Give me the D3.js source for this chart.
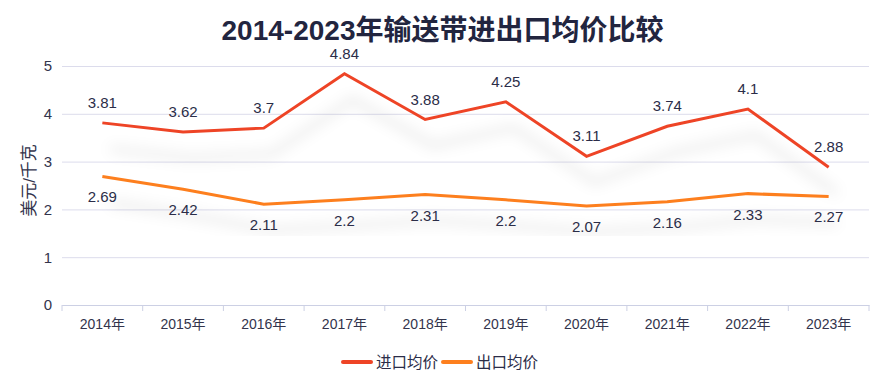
<!DOCTYPE html>
<html>
<head>
<meta charset="utf-8">
<script src="https://cdn.jsdelivr.net/npm/d3@7"></script>
<style>
  body { margin: 0; background: #fff; font-family: 'Liberation Sans', 'Noto Sans CJK SC', sans-serif; }
</style>
</head>
<body>
<div id="chart"></div>
<script>
const years = ['2014年', '2015年', '2016年', '2017年', '2018年', '2019年', '2020年', '2021年', '2022年', '2023年'];
const importPrice = [3.81, 3.62, 3.7, 4.84, 3.88, 4.25, 3.11, 3.74, 4.1, 2.88];
const exportPrice = [2.69, 2.42, 2.11, 2.2, 2.31, 2.2, 2.07, 2.16, 2.33, 2.27];
const yTicks = [0, 1, 2, 3, 4, 5];

const svgWidth = 885;
const svgHeight = 386;
const margin = { top: 66, right: 16, bottom: 81, left: 62 };
const chartWidth = svgWidth - margin.left - margin.right;
const chartHeight = svgHeight - margin.top - margin.bottom;
const fontStack = "'Liberation Sans', 'Noto Sans CJK SC', sans-serif";

const svg = d3.select('#chart').append('svg')
  .attr('width', svgWidth)
  .attr('height', svgHeight)
  .style('font-family', fontStack);

const defs = svg.append('defs');
const shadow = defs.append('filter')
  .attr('id', 'shadow')
  .attr('x', '-10%').attr('y', '-50%')
  .attr('width', '130%').attr('height', '250%');
shadow.append('feGaussianBlur').attr('in', 'SourceAlpha').attr('stdDeviation', 7).attr('result', 'blur');
shadow.append('feOffset').attr('dx', 8).attr('dy', 26).attr('result', 'off');
shadow.append('feFlood').attr('flood-color', '#000').attr('flood-opacity', 0.15).attr('result', 'col');
shadow.append('feComposite').attr('in', 'col').attr('in2', 'off').attr('operator', 'in');

svg.append('text')
  .attr('x', svgWidth / 2)
  .attr('y', 40)
  .attr('text-anchor', 'middle')
  .attr('font-size', 28)
  .attr('font-weight', 'bold')
  .attr('fill', '#22253f')
  .text('2014-2023年输送带进出口均价比较');

const g = svg.append('g').attr('transform', `translate(${margin.left}, ${margin.top})`);

const x = d3.scaleBand().domain(years).range([0, chartWidth]);
const y = d3.scaleLinear().domain([0, 5]).range([chartHeight, 0]);

// grid
g.append('g')
  .call(d3.axisLeft(y).tickValues(yTicks).tickFormat(d3.format('d')).tickSize(-chartWidth).tickPadding(10))
  .call((a) => a.select('.domain').remove())
  .call((a) => a.selectAll('line').attr('stroke', '#dcdcec'))
  .call((a) => a.selectAll('text').attr('font-size', 15).attr('fill', '#33344c').attr('font-family', fontStack));

const xAxis = g.append('g')
  .attr('transform', `translate(0, ${chartHeight})`)
  .call(d3.axisBottom(x).tickSize(0).tickPadding(14));
xAxis.select('.domain').attr('stroke', '#ccd0e4');
xAxis.selectAll('text').attr('font-size', 14).attr('fill', '#33344c').attr('font-family', fontStack);
g.append('g')
  .selectAll('line')
  .data(d3.range(years.length + 1))
  .enter()
  .append('line')
  .attr('x1', (i) => i * x.step())
  .attr('x2', (i) => i * x.step())
  .attr('y1', chartHeight)
  .attr('y2', chartHeight + 6)
  .attr('stroke', '#ccd0e4');

svg.append('text')
  .attr('transform', `translate(35, ${margin.top + chartHeight / 2 - 5}) rotate(-90)`)
  .attr('text-anchor', 'middle')
  .attr('font-size', 17)
  .attr('fill', '#33344c')
  .text('美元/千克');

const cx = (i) => x(years[i]) + x.bandwidth() / 2;
const line = d3.line().x((d, i) => cx(i)).y((d) => y(d));

const series = [
  { name: '进口均价', values: importPrice, color: '#ee4426', dy: -15 },
  { name: '出口均价', values: exportPrice, color: '#fd7f1e', dy: 26 },
];

series.forEach((s) => {
  g.append('path')
    .datum(s.values)
    .attr('d', line)
    .attr('fill', 'none')
    .attr('stroke', s.color)
    .attr('stroke-width', 3.5)
    .attr('filter', 'url(#shadow)');
  g.append('path')
    .datum(s.values)
    .attr('d', line)
    .attr('fill', 'none')
    .attr('stroke', s.color)
    .attr('stroke-width', 3)
    .attr('stroke-linejoin', 'miter');
});

series.forEach((s) => {
  g.selectAll(null)
    .data(s.values)
    .enter()
    .append('text')
    .attr('x', (d, i) => cx(i))
    .attr('y', (d) => y(d) + s.dy)
    .attr('text-anchor', 'middle')
    .attr('font-size', 15)
    .attr('fill', '#2b2d48')
    .text((d) => d);
});

// legend
const legend = svg.append('g').attr('transform', `translate(343, 362)`);
let offset = 0;
series.forEach((s) => {
  const item = legend.append('g').attr('transform', `translate(${offset}, 0)`);
  item.append('line')
    .attr('x1', 0).attr('x2', 28)
    .attr('y1', 0).attr('y2', 0)
    .attr('stroke', s.color)
    .attr('stroke-width', 4)
    .attr('stroke-linecap', 'round');
  item.append('text')
    .attr('x', 33)
    .attr('y', 6)
    .attr('font-size', 15.5)
    .attr('fill', '#2b2d48')
    .text(s.name);
  offset += 100;
});
</script>
</body>
</html>
